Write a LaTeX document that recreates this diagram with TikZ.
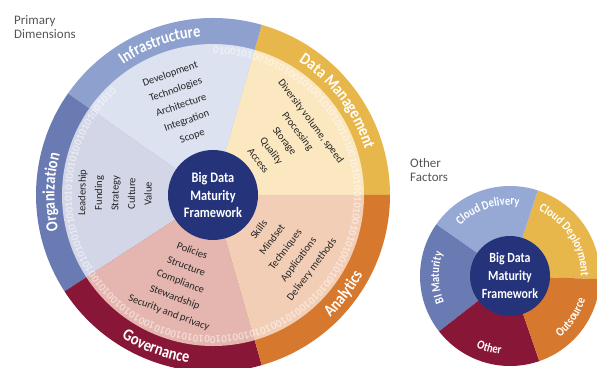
\documentclass[tikz,border=0pt]{standalone}
\usepackage{fontspec}
\setmainfont{Carlito}
\newfontfamily\condfont{Carlito}[FakeStretch=0.85]
\usetikzlibrary{decorations.text}
\definecolor{infraband}{RGB}{141,160,206}
\definecolor{orgband}{RGB}{106,122,178}
\definecolor{dmband}{RGB}{232,183,76}
\definecolor{anaband}{RGB}{214,120,45}
\definecolor{govband}{RGB}{135,22,55}
\definecolor{infrain}{RGB}{221,226,241}
\definecolor{orgin}{RGB}{211,214,230}
\definecolor{dmin}{RGB}{251,231,192}
\definecolor{anain}{RGB}{243,206,182}
\definecolor{govin}{RGB}{229,182,175}
\definecolor{navy}{RGB}{37,52,122}
\definecolor{itemtext}{RGB}{35,35,35}
\definecolor{captext}{RGB}{85,85,85}
\definecolor{cdelband}{RGB}{150,168,212}
\newcommand\bandfont{\condfont\fontsize{17}{18}\selectfont\bfseries\color{white}}
\newcommand\smallbandfont{\condfont\fontsize{12.5}{14}\selectfont\bfseries\color{white}}
\newcommand\digitfont{\fontsize{11}{12}\selectfont\bfseries\color{white}}
\newcommand\mywedge[5]{\fill[#1] (#2) -- ++(#3:#5) arc[start angle=#3, end angle=#4, radius=#5] -- cycle;}
\newcommand\bandlabel[6]{\path[decorate, decoration={text along path, text align=center, text={|#5|#6}}] ([shift={(#2:#4)}]#1) arc[start angle=#2, end angle=#3, radius=#4];}
\tikzset{
  listtext/.style={font=\fontsize{10.5}{16.5}\selectfont, text=itemtext, align=center, inner sep=0pt},
  corecircle/.style={circle, fill=navy, inner sep=0pt, text=white, align=center},
  caption/.style={font=\fontsize{13}{14}\selectfont, text=captext, align=left, inner sep=0pt, anchor=north west}
}
\begin{document}
\begin{tikzpicture}[x=1pt,y=1pt]
\useasboundingbox (0,0) rectangle (597,367);
\coordinate (C) at (213,172);
\coordinate (S) at (510,91);
% ---- big wheel: bands
\mywedge{dmband}{C}{0}{74}{177}
\mywedge{infraband}{C}{74}{145}{177}
\mywedge{orgband}{C}{145}{213}{177}
\mywedge{govband}{C}{213}{286}{177}
\mywedge{anaband}{C}{286}{360}{177}
% ---- big wheel: inner regions
\mywedge{dmin}{C}{0}{74}{151}
\mywedge{infrain}{C}{74}{145}{151}
\mywedge{orgin}{C}{145}{213}{151}
\mywedge{govin}{C}{213}{286}{151}
\mywedge{anain}{C}{286}{360}{151}
% ---- faint binary watermark (outer zone of the inner regions)
\begin{scope}[opacity=0.5]
\path[decorate, decoration={text along path, text={|\digitfont|01001010010101001010010101001010010101001010010101001010010101001010010101001010010101001010010101001010010101001010010101001010010101001010}}] ([shift={(90:141)}]C) arc[start angle=90, end angle=-270, radius=141];
\end{scope}
% ---- band labels
\bandlabel{C}{140}{79}{158.5}{\bandfont}{Infrastructure}
\bandlabel{C}{70}{4}{158.5}{\bandfont}{Data Management}
\bandlabel{C}{210}{148}{158.5}{\bandfont}{Organization}
\bandlabel{C}{216}{283}{169.5}{\bandfont}{Governance}
\bandlabel{C}{290}{356}{169.5}{\bandfont}{Analytics}
% ---- lists
\node[listtext, rotate=19.5] (infralist) at ([shift={(109.5:95)}]C) {Development\\Technologies\\Architecture\\Integration\\Scope};
\node[listtext, rotate=-53] (dmlist) at ([shift={(37:90)}]C) {Diversity volume, speed\\Processing\\Storage\\Quality\\Access};
\node[listtext, rotate=89] (orglist) at ([shift={(179:98)}]C) {Leadership\\Funding\\Strategy\\Culture\\Value};
\node[listtext, rotate=-20.5] (govlist) at ([shift={(249.5:93)}]C) {Policies\\Structure\\Compliance\\Stewardship\\Security and privacy};
\node[listtext, rotate=53] (analist) at ([shift={(323:91)}]C) {Skills\\Mindset\\Techniques\\Applications\\Delivery methods};
% ---- core
\node[corecircle, minimum size=90pt, font=\condfont\fontsize{14.5}{17.5}\selectfont\bfseries] (core) at (C) {Big Data\\Maturity\\Framework};
% ---- small wheel
\mywedge{dmband}{S}{-2}{72}{90}
\mywedge{cdelband}{S}{72}{145}{90}
\mywedge{orgband}{S}{145}{218}{90}
\mywedge{govband}{S}{218}{289}{90}
\mywedge{anaband}{S}{289}{358}{90}
\bandlabel{S}{140}{77}{71}{\smallbandfont}{Cloud Delivery}
\bandlabel{S}{70}{-4}{71}{\smallbandfont}{Cloud Deployment}
\bandlabel{S}{212}{151}{71}{\smallbandfont}{BI Maturity}
\bandlabel{S}{222}{286}{79}{\smallbandfont}{Other}
\bandlabel{S}{294}{358}{79}{\smallbandfont}{Outsource}
\node[corecircle, minimum size=80pt, font=\condfont\fontsize{14}{18}\selectfont\bfseries] (smallcore) at (S) {Big Data\\Maturity\\Framework};
% ---- captions
\node[caption] (primary) at (14,352) {Primary\\Dimensions};
\node[caption] (other) at (410,209) {Other\\Factors};
\end{tikzpicture}
\end{document}
